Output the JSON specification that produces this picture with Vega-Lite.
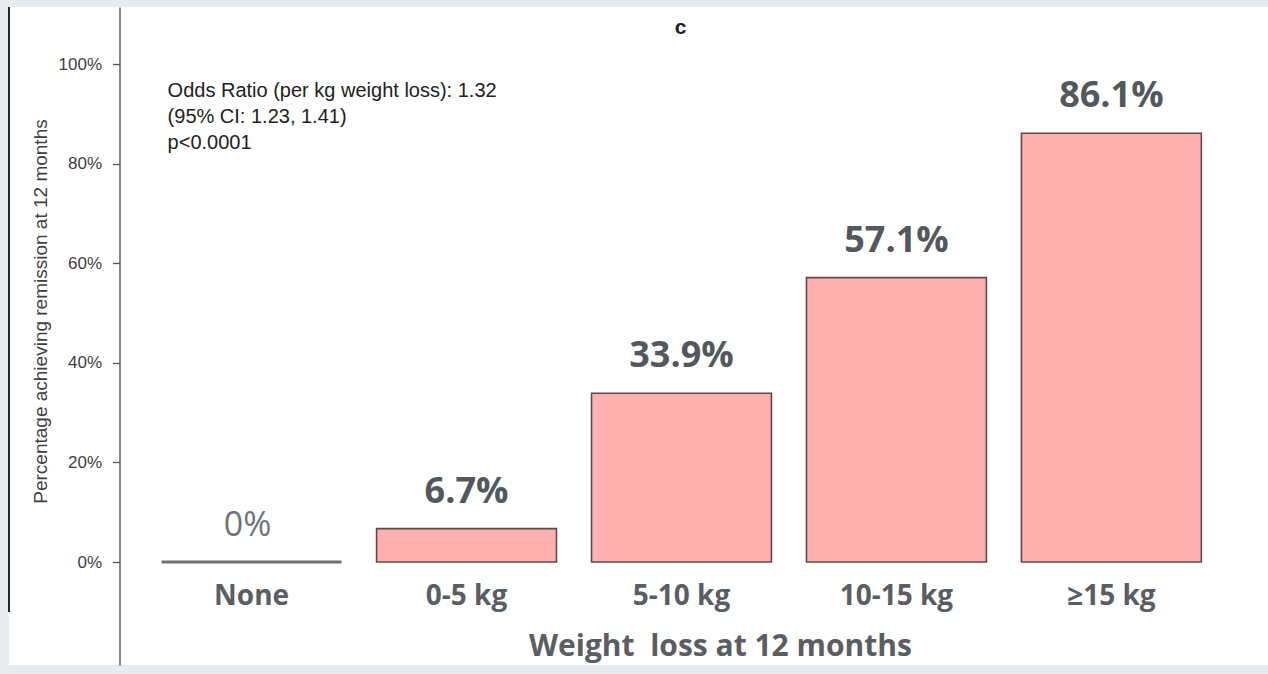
{
  "$schema": "https://vega.github.io/schema/vega-lite/v6.json",
  "width": 1259,
  "height": 658,
  "autosize": {"type": "none"},
  "padding": {"left": 9, "top": 7, "right": 0, "bottom": 9},
  "background": "#e8ecef",
  "config": {
    "font": "Liberation Sans",
    "view": {"fill": "white", "stroke": "#1b2631", "strokeWidth": 2, "strokeDash": [0, 3229, 605, 1]}
  },
  "title": {
    "text": "c",
    "font": "Liberation Sans",
    "fontSize": 21,
    "fontWeight": "bold",
    "color": "#222222",
    "anchor": "middle",
    "frame": "group",
    "dx": 42,
    "offset": -31
  },
  "data": {
    "values": [
      {"group": "None", "pct": 0},
      {"group": "0-5 kg", "pct": 6.7},
      {"group": "5-10 kg", "pct": 33.9},
      {"group": "10-15 kg", "pct": 57.1},
      {"group": "≥15 kg", "pct": 86.1}
    ]
  },
  "encoding": {
    "x": {
      "field": "group",
      "type": "nominal",
      "sort": null,
      "scale": {
        "domain": ["None", "0-5 kg", "5-10 kg", "10-15 kg", "≥15 kg"],
        "paddingInner": 0.163,
        "paddingOuter": 0.51,
        "align": 0.696,
        "round": false
      },
      "axis": {
        "title": "Weight\u00a0 loss at 12 months",
        "orient": "bottom",
        "offset": -103,
        "domain": false,
        "ticks": false,
        "labelAngle": 0,
        "labelFont": "Open Sans",
        "labelFontSize": 28,
        "labelFontWeight": "bold",
        "labelColor": "#5a5e62",
        "labelPadding": 20,
        "titleFont": "Open Sans",
        "titleFontSize": 30,
        "titleFontWeight": "bold",
        "titleColor": "#5a5e62",
        "titlePadding": 21,
        "titleX": 711
      }
    }
  },
  "layer": [
    {
      "mark": {"type": "bar", "fill": "#ffb0b0"},
      "encoding": {
        "y": {
          "field": "pct",
          "type": "quantitative",
          "scale": {"domain": [-20.68, 111.45], "nice": false, "zero": false},
          "axis": {
            "title": "Percentage achieving remission at 12 months",
            "offset": -110.5,
            "values": [0, 20, 40, 60, 80, 100],
            "labelExpr": "datum.value + '%'",
            "domain": true,
            "domainColor": "#555555",
            "domainWidth": 1.4,
            "grid": false,
            "tickSize": 7,
            "tickColor": "#555555",
            "tickWidth": 1.3,
            "labelFont": "Liberation Sans",
            "labelFontSize": 17,
            "labelColor": "#404040",
            "labelPadding": 11,
            "titleFont": "Liberation Sans",
            "titleFontSize": 19,
            "titleFontWeight": "normal",
            "titleColor": "#404040",
            "titlePadding": 8,
            "titleY": 304
          }
        },
        "y2": {"datum": 0},
        "stroke": {
          "condition": {"test": "datum.pct === 0", "value": "#6e7276"},
          "value": "#5d4a4c"
        },
        "strokeWidth": {
          "condition": {"test": "datum.pct === 0", "value": 3},
          "value": 1.6
        }
      }
    },
    {
      "transform": [
        {"filter": "datum.pct > 0"},
        {"calculate": "format(datum.pct, '.1f') + '%'", "as": "label"}
      ],
      "mark": {
        "type": "text",
        "font": "Open Sans",
        "fontSize": 36,
        "fontWeight": "bold",
        "color": "#53585d",
        "baseline": "middle",
        "dy": -37
      },
      "encoding": {
        "y": {"field": "pct", "type": "quantitative"},
        "text": {"field": "label"}
      }
    },
    {
      "transform": [
        {"filter": "datum.pct === 0"},
        {"calculate": "datum.pct + '%'", "as": "label"}
      ],
      "mark": {
        "type": "text",
        "font": "Open Sans",
        "fontSize": 34,
        "fontWeight": "normal",
        "color": "#707478",
        "baseline": "middle",
        "dy": -36,
        "dx": -4
      },
      "encoding": {
        "y": {"field": "pct", "type": "quantitative"},
        "text": {"field": "label"}
      }
    },
    {
      "data": {
        "values": [
          {"group": "None", "note": ["Odds Ratio (per kg weight loss): 1.32", "(95% CI: 1.23, 1.41)", "p<0.0001"]}
        ]
      },
      "mark": {
        "type": "text",
        "font": "Liberation Sans",
        "fontSize": 20,
        "color": "#222222",
        "align": "left",
        "baseline": "top",
        "lineHeight": 26,
        "dx": 6
      },
      "encoding": {
        "x": {"field": "group", "type": "nominal", "bandPosition": 0},
        "y": {"datum": 96.6},
        "text": {"field": "note"}
      }
    }
  ]
}
